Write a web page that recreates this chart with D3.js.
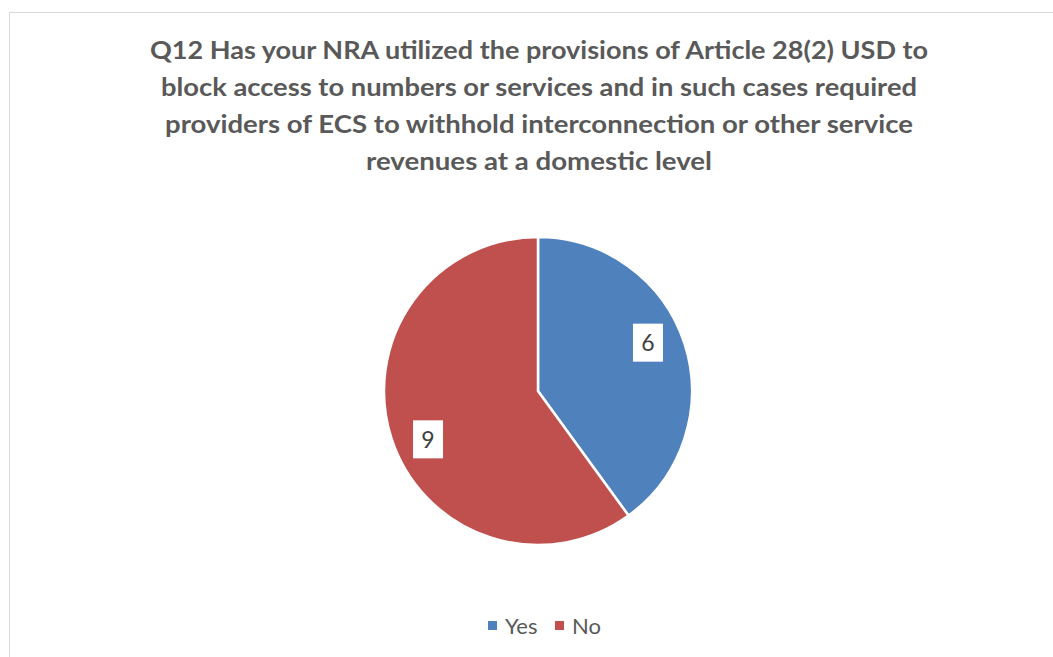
<!DOCTYPE html>
<html lang="en">
<head>
    <meta charset="UTF-8">
    <title>Q12 pie</title>
    <script src="https://d3js.org/d3.v7.min.js"></script>
    <style>
        body { margin: 0; background: #fff; font-family: Lato, "Open Sans", sans-serif; }
    </style>
</head>
<body>
    <div id="chart"></div>
    <script>
        const categories = ["Yes", "No"];
        const values = [6, 9];
        const colors = ["#4F81BD", "#C0504D"];
        const titleLines = [
            "Q12 Has your NRA utilized the provisions of Article 28(2) USD to",
            "block access to numbers or services and in such cases required",
            "providers of ECS to withhold interconnection or other service",
            "revenues at a domestic level"
        ];
        const titleWidths = [778, 756, 748, 346];

        const width = 1053, height = 657;
        const svg = d3.select("#chart").append("svg")
            .attr("width", width)
            .attr("height", height);

        // chart frame (runs off the right and bottom edges)
        svg.append("rect")
            .attr("x", 9.5).attr("y", 12.5)
            .attr("width", 1100).attr("height", 700)
            .attr("fill", "#fff")
            .attr("stroke", "#d9d9d9");

        // title
        svg.selectAll("text.title")
            .data(titleLines)
            .enter().append("text")
            .attr("class", "title")
            .attr("x", 539)
            .attr("y", (d, i) => 59 + i * 37)
            .attr("text-anchor", "middle")
            .attr("textLength", (d, i) => titleWidths[i])
            .attr("lengthAdjust", "spacingAndGlyphs")
            .style("font-size", "25px")
            .style("font-weight", "bold")
            .attr("fill", "#595959")
            .text(d => d);

        const cx = 538, cy = 391, r = 154;
        const pie = d3.pie().sort(null)(values);
        const arc = d3.arc().innerRadius(0).outerRadius(r);
        const g = svg.append("g").attr("transform", `translate(${cx},${cy})`);

        g.selectAll("path")
            .data(pie)
            .enter().append("path")
            .attr("d", arc)
            .attr("fill", (d, i) => colors[i])
            .attr("stroke", "#fff")
            .attr("stroke-width", 2.5);

        // data labels (best-fit placement sits a little anticlockwise of mid-angle)
        const labelArc = d3.arc().innerRadius(r * 0.78).outerRadius(r * 0.78);
        const shift = 0.1;
        const labels = g.selectAll("g.lbl")
            .data(pie)
            .enter().append("g")
            .attr("class", "lbl")
            .attr("transform", d => {
                const c = labelArc.centroid({startAngle: d.startAngle - shift, endAngle: d.endAngle - shift});
                return `translate(${c[0]},${c[1]})`;
            });
        labels.append("rect")
            .attr("x", -15).attr("y", -19)
            .attr("width", 30).attr("height", 38)
            .attr("fill", "#fff");
        labels.append("text")
            .attr("text-anchor", "middle")
            .attr("dy", "0.36em")
            .style("font-size", "23px")
            .attr("fill", "#404040")
            .text(d => d.data);

        // legend
        const legendX = [488, 555];
        const legend = svg.selectAll("g.leg")
            .data(categories)
            .enter().append("g")
            .attr("class", "leg")
            .attr("transform", (d, i) => `translate(${legendX[i]},626)`);
        legend.append("rect")
            .attr("x", 0).attr("y", -5)
            .attr("width", 9).attr("height", 9)
            .attr("fill", (d, i) => colors[i]);
        legend.append("text")
            .attr("x", 17)
            .attr("dy", "0.36em")
            .style("font-size", "22px")
            .attr("fill", "#595959")
            .text(d => d);
    </script>
</body>
</html>
